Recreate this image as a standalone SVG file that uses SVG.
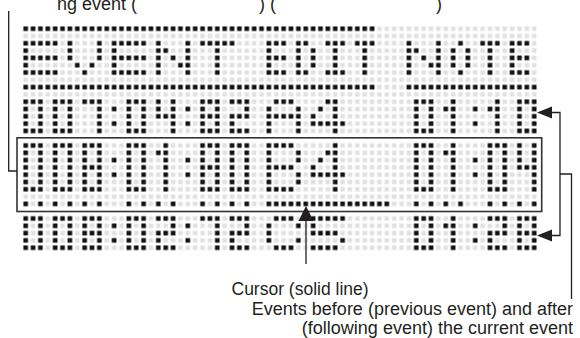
<svg xmlns="http://www.w3.org/2000/svg" xmlns:xlink="http://www.w3.org/1999/xlink" width="580" height="338" viewBox="0 0 580 338">
<style>
.lbl{font-family:"Liberation Sans",Arial,sans-serif;fill:#231f20}
.ln{fill:none;stroke:#231f20;stroke-width:1.3}
.ah{fill:#231f20}
</style>
<defs>
<pattern id="pb" width="1" height="1" patternUnits="userSpaceOnUse"><rect x="0.19" y="0.19" width="0.62" height="0.62" fill="#111"/></pattern>
<pattern id="pg" width="1" height="1" patternUnits="userSpaceOnUse"><rect x="0.19" y="0.19" width="0.62" height="0.62" fill="#e1e1e1"/></pattern>
<g id="s0"><rect width="3" height="1"/><rect y="1" width="1" height="3"/><rect x="2" y="1" width="1" height="3"/><rect y="4" width="3" height="1"/></g>
<g id="s1"><rect x="1" width="1" height="5"/><rect y="1" width="1" height="1"/></g>
<g id="s2"><rect width="3" height="1"/><rect x="2" y="1" width="1" height="1"/><rect y="2" width="3" height="1"/><rect y="3" width="1" height="1"/><rect y="4" width="3" height="1"/></g>
<g id="s4"><rect width="1" height="3"/><rect x="1" y="2" width="1" height="1"/><rect x="2" width="1" height="5"/></g>
<g id="s7"><rect width="3" height="1"/><rect x="2" y="1" width="1" height="4"/></g>
<g id="s8"><rect width="1" height="5"/><rect x="2" width="1" height="5"/><rect x="1" width="1" height="1"/><rect x="1" y="2" width="1" height="1"/><rect x="1" y="4" width="1" height="1"/></g>
<g id="sc"><rect y="1" width="1" height="1"/><rect y="3" width="1" height="1"/></g>
<g id="sE"><rect width="1" height="5"/><rect x="1" width="2" height="1"/><rect x="1" y="2" width="2" height="1"/><rect x="1" y="4" width="2" height="1"/></g>
<g id="sD"><rect width="1" height="5"/><rect x="1" width="1" height="1"/><rect x="1" y="4" width="1" height="1"/><rect x="2" y="1" width="1" height="3"/></g>
<g id="sI"><rect width="3" height="1"/><rect x="1" y="1" width="1" height="3"/><rect y="4" width="3" height="1"/></g>
<g id="sT"><rect width="3" height="1"/><rect x="1" y="1" width="1" height="4"/></g>
<g id="sO"><rect x="1" width="1" height="1"/><rect y="1" width="1" height="3"/><rect x="2" y="1" width="1" height="3"/><rect x="1" y="4" width="1" height="1"/></g>
<g id="bE"><rect width="5" height="1"/><rect y="1" width="1" height="1"/><rect y="2" width="5" height="1"/><rect y="3" width="1" height="1"/><rect y="4" width="5" height="1"/></g>
<g id="bV"><rect width="1" height="3"/><rect x="4" width="1" height="3"/><rect x="1" y="3" width="1" height="1"/><rect x="3" y="3" width="1" height="1"/><rect x="2" y="4" width="1" height="1"/></g>
<g id="bN"><rect width="1" height="5"/><rect x="4" width="1" height="5"/><rect x="1" y="1" width="1" height="1"/><rect x="2" y="2" width="1" height="1"/><rect x="3" y="3" width="1" height="1"/></g>
<g id="bT"><rect width="5" height="1"/><rect x="2" y="1" width="1" height="4"/></g>
<g id="bA"><rect x="1" width="3" height="1"/><rect y="1" width="1" height="4"/><rect x="4" y="1" width="1" height="4"/><rect x="1" y="2" width="3" height="1"/></g>
<g id="b4"><rect x="2" width="1" height="1"/><rect x="3" width="1" height="5"/><rect x="1" y="1" width="1" height="1"/><rect y="2" width="1" height="2"/><rect x="1" y="3" width="2" height="1"/><rect x="4" y="3" width="1" height="1"/></g>
<g id="bC"><rect x="1" width="3" height="1"/><rect y="1" width="1" height="3"/><rect x="4" y="1" width="1" height="1"/><rect x="4" y="3" width="1" height="1"/><rect x="1" y="4" width="3" height="1"/></g>
<g id="b5"><rect width="5" height="1"/><rect y="1" width="1" height="1"/><rect y="2" width="4" height="1"/><rect x="4" y="3" width="1" height="1"/><rect y="4" width="4" height="1"/></g>
<g id="t0"><rect width="3" height="1"/><rect y="1" width="1" height="5"/><rect x="2" y="1" width="1" height="5"/><rect y="6" width="3" height="1"/></g>
<g id="t8"><rect width="1" height="7"/><rect x="2" width="1" height="7"/><rect x="1" width="1" height="1"/><rect x="1" y="3" width="1" height="1"/><rect x="1" y="6" width="1" height="1"/></g>
<g id="t1"><rect x="1" width="1" height="7"/><rect y="1" width="1" height="1"/></g>
<g id="t4"><rect width="1" height="4"/><rect x="1" y="3" width="1" height="1"/><rect x="2" width="1" height="7"/></g>
<g id="tc"><rect y="2" width="1" height="1"/><rect y="4" width="1" height="1"/></g>
<g id="tB"><rect width="1" height="7"/><rect x="1" width="3" height="1"/><rect x="1" y="3" width="3" height="1"/><rect x="1" y="6" width="3" height="1"/><rect x="4" y="1" width="1" height="2"/><rect x="4" y="4" width="1" height="2"/></g>
<g id="tF"><rect x="3" width="1" height="7"/><rect x="2" y="1" width="1" height="1"/><rect x="1" y="2" width="1" height="1"/><rect y="3" width="1" height="2"/><rect x="1" y="4" width="2" height="1"/><rect x="4" y="4" width="1" height="1"/></g>
</defs>
<rect width="580" height="338" fill="#fff"/>

<g id="label-top">
<text class="lbl" x="57" y="9.5" font-size="18">ng event (</text>
<text class="lbl" x="259" y="9.5" font-size="18">) (</text>
<text class="lbl" x="436" y="9.5" font-size="18">)</text>
</g>

<g id="lcd" transform="translate(22,25.05) scale(7.37,7.3)">
<g fill="url(#pg)">
<rect x="0" y="0" width="70" height="15"/>
<rect x="0" y="16" width="70" height="9"/>
<rect x="0" y="26" width="70" height="5"/>
</g>
<g fill="url(#pb)">
<rect x="0" y="0" width="48" height="1"/>
<use xlink:href="#bE" x="0" y="2"/><use xlink:href="#bV" x="6" y="2"/><use xlink:href="#bE" x="12" y="2"/><use xlink:href="#bN" x="18" y="2"/><use xlink:href="#bT" x="24" y="2"/>
<use xlink:href="#sE" x="33" y="2"/><use xlink:href="#sD" x="37" y="2"/><use xlink:href="#sI" x="41" y="2"/><use xlink:href="#sT" x="45" y="2"/>
<use xlink:href="#bN" x="52" y="2"/><use xlink:href="#sO" x="58" y="2"/><use xlink:href="#sT" x="62" y="2"/><use xlink:href="#sE" x="66" y="2"/>
<rect x="0" y="8" width="48" height="1"/><rect x="52" y="8" width="18" height="1"/>
<use xlink:href="#s0" x="0" y="10"/><use xlink:href="#s0" x="4" y="10"/><use xlink:href="#s7" x="8" y="10"/><use xlink:href="#sc" x="12" y="10"/>
<use xlink:href="#s0" x="14" y="10"/><use xlink:href="#s4" x="18" y="10"/><use xlink:href="#sc" x="22" y="10"/>
<use xlink:href="#s8" x="24" y="10"/><use xlink:href="#s2" x="28" y="10"/>
<use xlink:href="#bA" x="33" y="10"/><use xlink:href="#b4" x="39" y="10"/>
<use xlink:href="#s0" x="53" y="10"/><use xlink:href="#s1" x="57" y="10"/><use xlink:href="#sc" x="61" y="10"/><use xlink:href="#s1" x="63" y="10"/><use xlink:href="#s0" x="67" y="10"/>
<use xlink:href="#t0" x="0" y="16"/><use xlink:href="#t0" x="4" y="16"/><use xlink:href="#t8" x="8" y="16"/><use xlink:href="#tc" x="12" y="16"/>
<use xlink:href="#t0" x="14" y="16"/><use xlink:href="#t1" x="18" y="16"/><use xlink:href="#tc" x="22" y="16"/>
<use xlink:href="#t8" x="24" y="16"/><use xlink:href="#t0" x="28" y="16"/>
<use xlink:href="#tB" x="33" y="16"/><use xlink:href="#tF" x="39" y="16"/>
<use xlink:href="#t0" x="53" y="16"/><use xlink:href="#t1" x="57" y="16"/><use xlink:href="#tc" x="61" y="16"/><use xlink:href="#t0" x="63" y="16"/><use xlink:href="#t4" x="67" y="16"/>
<rect x="0" y="24" width="1" height="1"/><rect x="2" y="24" width="1" height="1"/><rect x="4" y="24" width="1" height="1"/><rect x="6" y="24" width="1" height="1"/><rect x="8" y="24" width="1" height="1"/><rect x="10" y="24" width="1" height="1"/>
<rect x="14" y="24" width="1" height="1"/><rect x="16" y="24" width="1" height="1"/><rect x="18" y="24" width="1" height="1"/><rect x="20" y="24" width="1" height="1"/>
<rect x="24" y="24" width="1" height="1"/><rect x="26" y="24" width="1" height="1"/><rect x="28" y="24" width="1" height="1"/><rect x="30" y="24" width="1" height="1"/>
<rect x="33" y="24" width="17" height="1"/>
<rect x="53" y="24" width="1" height="1"/><rect x="55" y="24" width="1" height="1"/><rect x="57" y="24" width="1" height="1"/><rect x="59" y="24" width="1" height="1"/>
<rect x="63" y="24" width="1" height="1"/><rect x="65" y="24" width="1" height="1"/><rect x="67" y="24" width="1" height="1"/><rect x="69" y="24" width="1" height="1"/>
<use xlink:href="#s0" x="0" y="26"/><use xlink:href="#s0" x="4" y="26"/><use xlink:href="#s8" x="8" y="26"/><use xlink:href="#sc" x="12" y="26"/>
<use xlink:href="#s0" x="14" y="26"/><use xlink:href="#s2" x="18" y="26"/><use xlink:href="#sc" x="22" y="26"/>
<use xlink:href="#s7" x="24" y="26"/><use xlink:href="#s2" x="28" y="26"/>
<use xlink:href="#bC" x="33" y="26"/><use xlink:href="#b5" x="39" y="26"/>
<use xlink:href="#s0" x="53" y="26"/><use xlink:href="#s1" x="57" y="26"/><use xlink:href="#sc" x="61" y="26"/><use xlink:href="#s2" x="63" y="26"/><use xlink:href="#s8" x="67" y="26"/>
</g>
</g>

<g id="current-event-box">
<rect x="17" y="137.8" width="524.7" height="73.7" fill="none" stroke="#333" stroke-width="1.6"/>
</g>

<g id="label-cursor">
<text class="lbl" x="231.5" y="295" font-size="17.5">Cursor (solid line)</text>
</g>

<g id="label-events">
<text class="lbl" x="573" y="315" font-size="18" text-anchor="end">Events before (previous event) and after</text>
<text class="lbl" x="573" y="334" font-size="18" text-anchor="end">(following event) the current event</text>
</g>

<g id="connectors">
<polyline class="ln" points="8.7,11 8.7,171 17,171"/>
<polyline class="ln" points="552,112.5 560,112.5 560,235.5 552,235.5"/>
<polyline class="ln" points="560,174 571.5,174 571.5,299"/>
<polygon class="ah" points="537,112.5 552,106.5 552,118.5"/>
<polygon class="ah" points="537,235.5 552,229.5 552,241.5"/>
<line class="ln" x1="306" y1="220" x2="306" y2="264"/>
<polygon class="ah" points="306,206 298.5,221 313.5,221"/>
</g>
</svg>
